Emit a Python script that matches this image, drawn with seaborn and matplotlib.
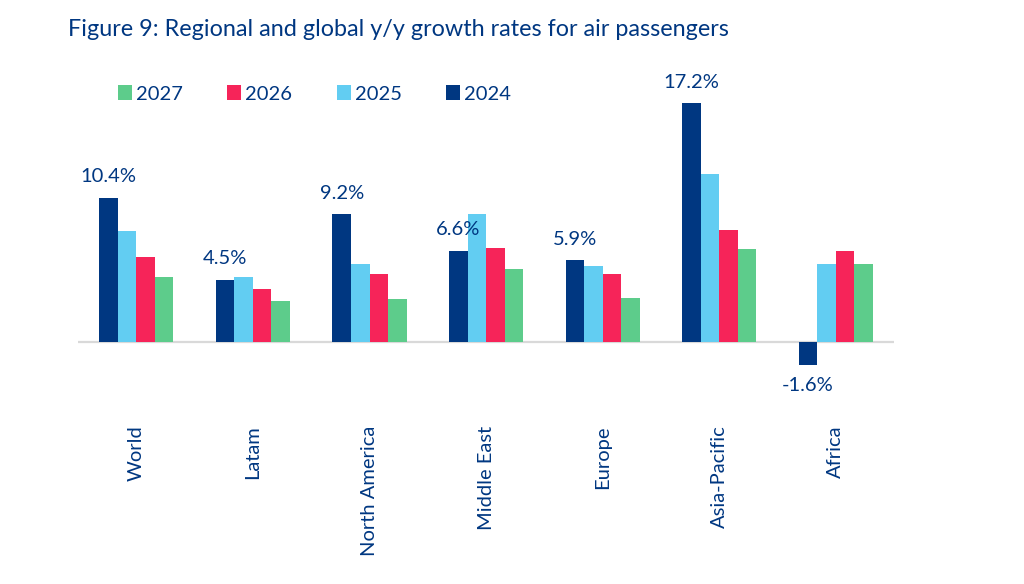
import matplotlib
matplotlib.use("Agg")
import matplotlib.pyplot as plt
import pandas as pd
import seaborn as sns
from matplotlib.patches import Patch

# y/y growth rates for air passengers, %
regions = ["World", "Latam", "North America", "Middle East", "Europe", "Asia-Pacific", "Africa"]
years = ["2024", "2025", "2026", "2027"]
growth_2024 = [10.4, 4.5, 9.2, 6.6, 5.9, 17.2, -1.6]
growth_2025 = [8.0, 4.7, 5.6, 9.2, 5.5, 12.1, 5.6]
growth_2026 = [6.1, 3.8, 4.9, 6.8, 4.9, 8.1, 6.6]
growth_2027 = [4.7, 3.0, 3.1, 5.3, 3.2, 6.7, 5.6]

NAVY = "#003781"
year_colors = {"2024": NAVY, "2025": "#62CDF2", "2026": "#F62459", "2027": "#5DCC8B"}

series = {"2024": growth_2024, "2025": growth_2025, "2026": growth_2026, "2027": growth_2027}
df = pd.concat(
    [pd.DataFrame({"region": regions, "year": y, "growth": v}) for y, v in series.items()],
    ignore_index=True,
)

sns.set_theme(style="white")
plt.rcParams["font.family"] = ["Lato", "DejaVu Sans"]

fig = plt.figure(figsize=(10.24, 5.84), dpi=100)
ax = fig.add_axes([0.0762, 0.3425, 0.797, 0.5474])

sns.barplot(
    data=df,
    x="region",
    y="growth",
    hue="year",
    hue_order=years,
    order=regions,
    palette=year_colors,
    width=0.636,
    saturation=1,
    linewidth=0,
    legend=False,
    ax=ax,
)

ax.set_xlim(-0.5, 6.5)
ax.set_ylim(-3, 20)
ax.axhline(0, color="#d9d9d9", lw=1.6, zorder=0)
for s in ax.spines.values():
    s.set_visible(False)
ax.set_yticks([])
ax.set_xlabel("")
ax.set_ylabel("")
ax.tick_params(axis="x", length=0, pad=30, labelsize=14.5, labelcolor=NAVY)
plt.setp(ax.get_xticklabels(), rotation=90, va="top", ha="center")

# only the 2024 values are labelled
ax.bar_label(
    ax.containers[0],
    labels=[f"{v:.1f}%" for v in growth_2024],
    padding=9,
    fontsize=14.5,
    color=NAVY,
)

handles = [Patch(facecolor=year_colors[y], edgecolor="none", label=y) for y in reversed(years)]
fig.legend(
    handles=handles,
    loc="center left",
    bbox_to_anchor=(108 / 1024, 1 - 94 / 584),
    ncol=4,
    frameon=False,
    fontsize=14.5,
    handlelength=0.7,
    handleheight=0.7,
    handletextpad=0.2,
    columnspacing=2.2,
    borderpad=0,
    labelcolor=NAVY,
)

fig.text(
    68 / 1024,
    1 - 30 / 584,
    "Figure 9: Regional and global y/y growth rates for air passengers",
    fontsize=16.8,
    color=NAVY,
    va="center",
    ha="left",
)

fig.savefig("out.png", dpi=100)
